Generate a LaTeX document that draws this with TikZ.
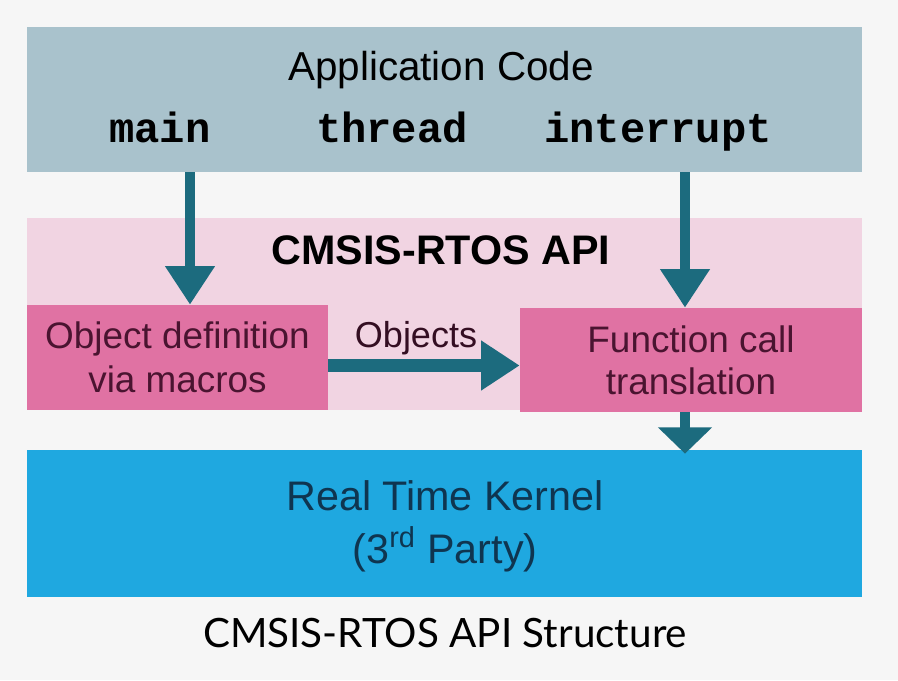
\documentclass[tikz,border=0pt]{standalone}
\usepackage{fontspec}
\setmainfont{Liberation Sans}
\setmonofont{Liberation Mono}
\newfontfamily\capfont{Lato}
\usepackage{xcolor}
\usepackage{tikz}
\usetikzlibrary{arrows.meta}
\usetikzlibrary{positioning}
\definecolor{bgwhite}{HTML}{F6F6F6}
\definecolor{appgrey}{HTML}{A9C2CC}
\definecolor{apipink}{HTML}{F1D4E2}
\definecolor{boxpink}{HTML}{E072A3}
\definecolor{kernelblue}{HTML}{1FA8E0}
\definecolor{arrowteal}{HTML}{1C6B7E}
\definecolor{pinktext}{HTML}{4A1430}
\definecolor{navytext}{HTML}{0F3550}
\tikzset{
  layer/.style={rectangle, inner sep=0pt, minimum width=16.7cm},
  pinkbox/.style={rectangle, inner sep=0pt, fill=boxpink, align=center,
    text=pinktext, font=\fontsize{21}{25}\selectfont},
  codeword/.style={anchor=base, font=\fontsize{24}{28}\selectfont\ttfamily\bfseries},
  fat/.style={-{Triangle[width=27pt,length=22pt]}, line width=6.2pt, arrowteal},
}

\begin{document}
\begin{tikzpicture}[x=0.02cm, y=-0.02cm]
      \fill[bgwhite] (0,0) rectangle (898,680);
      \useasboundingbox (0,0) rectangle (898,680);
      \node[layer, fill=appgrey, minimum height=2.9cm] (app) at (444.5,99.5) {};
      \node[layer, fill=apipink, minimum height=3.84cm] (api) at (444.5,314) {};
      \node[layer, fill=kernelblue, minimum height=2.94cm] (kernel) at (444.5,523.5) {};
      \node[font=\fontsize{23}{27}\selectfont] (apptitle) at (441,70) {Application Code};
      \node[codeword] (main) at (160,142) {main};
      \node[codeword] (thread) at (392,142) {thread};
      \node[codeword] (interrupt) at (658,142) {interrupt};
      \node[font=\fontsize{23.5}{28}\selectfont\bfseries] (apititle) at (441,250) {CMSIS-RTOS API};
      \node[pinkbox, minimum width=6.02cm, minimum height=2.1cm] (objdef) at (177.5,357.5)
        {Object definition\\via macros};
      \node[pinkbox, minimum width=6.84cm, minimum height=2.08cm,
        font=\fontsize{21}{24}\selectfont] (func) at (691,360)
        {Function call\\translation};
      \node[font=\fontsize{20.5}{24}\selectfont, text=pinktext!70!black] (objlabel) at (416,338) {Objects};
      \node[align=center, text=navytext, font=\fontsize{23.5}{30}\selectfont] (kerneltext) at (445,526)
        {Real Time Kernel\\(3\textsuperscript{rd} Party)};
      \node[font=\capfont\fontsize{23}{27}\selectfont] (caption) at (445,633) {CMSIS-RTOS API Structure};
      \coordinate (mainout) at (app.south -| 190,0);
      \coordinate (intout) at (app.south -| 685,0);
      \draw[fat] (mainout) -- (mainout |- objdef.north);
      \draw[fat] (intout) -- (intout |- func.north);
      \draw[fat, line width=7pt] ([yshift=-0.16cm]objdef.east) -- ([yshift=-0.16cm]objdef.east -| func.west);
      \draw[fat, -{Triangle[width=30pt,length=15pt]}] (func.south -| intout) -- ([yshift=-0.08cm]kernel.north -| intout);
    \end{tikzpicture}
\end{document}
